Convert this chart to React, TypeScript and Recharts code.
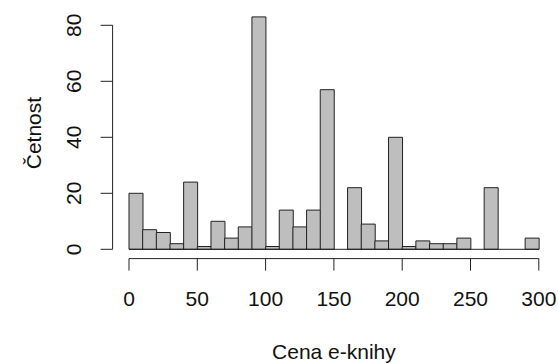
import { BarChart, Bar, XAxis, YAxis, ReferenceLine } from 'recharts'

// histogram bins (midpoints, width 10)
const binMids = [5, 15, 25, 35, 45, 55, 65, 75, 85, 95, 105, 115, 125, 135, 145, 155, 165, 175, 185, 195, 205, 215, 225, 235, 245, 255, 265, 275, 285, 295]
const counts = [20, 7, 6, 2, 24, 1, 10, 4, 8, 83, 1, 14, 8, 14, 57, 0, 22, 9, 3, 40, 1, 3, 2, 2, 4, 0, 22, 0, 0, 4]
const xTicks = [0, 50, 100, 150, 200, 250, 300]
const yTicks = [0, 20, 40, 60, 80]

const data = binMids.map((mid, i) => ({ mid, count: counts[i] }))

const FONT = '"Liberation Sans", Arial, sans-serif'
const FS = 21

function XTick({ x, y, payload }: any) {
  return (
    <text x={x} y={y + 33} textAnchor="middle" fontFamily={FONT} fontSize={FS} fill="#111">
      {payload.value}
    </text>
  )
}

function YTick({ x, y, payload }: any) {
  const bx = x - 18
  return (
    <text x={bx} y={y} transform={`rotate(-90, ${bx}, ${y})`} textAnchor="middle" fontFamily={FONT} fontSize={FS} fill="#111">
      {payload.value}
    </text>
  )
}

export default function App() {
  return (
    <div style={{ position: 'absolute', left: 0, top: 0, background: '#fff' }}>
      <BarChart width={558} height={363} data={data} barCategoryGap={0} margin={{ top: 7.6, right: 2.8, left: 0, bottom: 0 }}>
        <XAxis
          dataKey="mid"
          type="number"
          domain={[-12, 312]}
          ticks={xTicks}
          interval={0}
          axisLine={false}
          tickLine={{ stroke: '#222', strokeWidth: 1 }}
          tickSize={12}
          height={104.4}
          tick={<XTick />}
          label={{ value: 'Cena e-knihy', position: 'insideBottom', offset: 4, fontFamily: FONT, fontSize: FS, fill: '#111' }}
        />
        <YAxis
          type="number"
          domain={[-3.32, 86.32]}
          ticks={yTicks}
          interval={0}
          axisLine={false}
          tickLine={{ stroke: '#222', strokeWidth: 1 }}
          tickSize={12}
          width={112.6}
          tick={<YTick />}
          label={({ viewBox }: any) => (
            <text
              x={41.5}
              y={viewBox.y + viewBox.height / 2}
              transform={`rotate(-90, 41.5, ${viewBox.y + viewBox.height / 2})`}
              textAnchor="middle"
              fontFamily={FONT}
              fontSize={FS}
              fill="#111"
            >
              Četnost
            </text>
          )}
        />
        <Bar dataKey="count" fill="#bebebe" stroke="#222" strokeWidth={1} isAnimationActive={false} />
        <ReferenceLine segment={[{ x: 0, y: 0 }, { x: 300, y: 0 }]} stroke="#222" ifOverflow="visible" />
        <ReferenceLine segment={[{ x: -12, y: 0 }, { x: -12, y: 80 }]} stroke="#222" ifOverflow="visible" />
        <ReferenceLine segment={[{ x: 0, y: -3.32 }, { x: 300, y: -3.32 }]} stroke="#222" ifOverflow="visible" />
      </BarChart>
    </div>
  )
}
